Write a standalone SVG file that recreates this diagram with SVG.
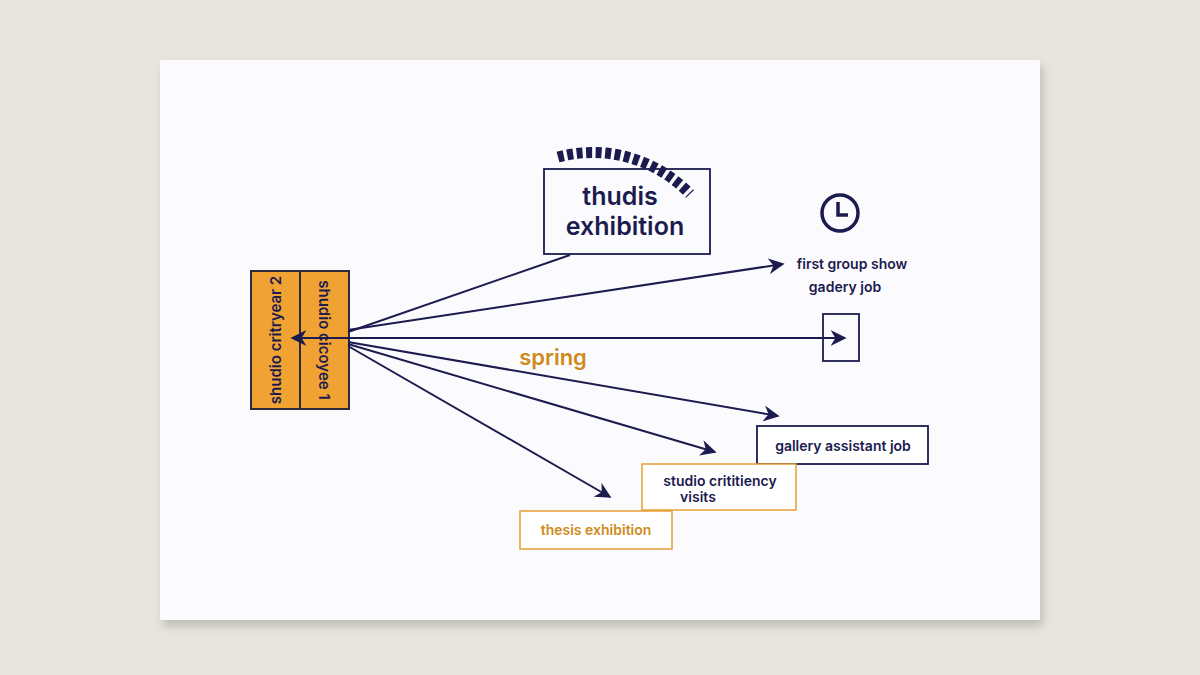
<svg xmlns="http://www.w3.org/2000/svg" width="1200" height="675" viewBox="0 0 1200 675">
<defs>
<marker id="ah" viewBox="0 0 10 10" refX="9" refY="5" markerWidth="16" markerHeight="16" markerUnits="userSpaceOnUse" orient="auto"><path d="M0,0 L10,5 L0,10 L3,5 z" fill="#1b1b4f"/></marker>
<filter id="sh" x="-5%" y="-5%" width="110%" height="115%"><feDropShadow dx="3" dy="6" stdDeviation="5" flood-color="#000" flood-opacity="0.18"/></filter>
<style>
text{font-family:Inter,"Liberation Sans",sans-serif;font-weight:600;fill:#1b1b4f}
.c line{stroke:#1b1b4f;stroke-width:2}
.nb{fill:#fff;stroke:#1b1b4f;stroke-width:1.8}
.nf{fill:none;stroke:#1b1b4f;stroke-width:1.8}
.ob{fill:#fff;stroke:#e4a036;stroke-width:1.5}
.org{fill:#cf8a1c}
</style>
</defs>
<rect width="1200" height="675" fill="#e8e5df"/>
<rect x="160" y="60" width="880" height="560" fill="#fbfbfd" filter="url(#sh)"/>
<g id="year-box">
<rect x="251" y="271" width="49" height="138" fill="#f0a232" stroke="#2a2a3a" stroke-width="2"/>
<rect x="300" y="271" width="49" height="138" fill="#f0a232" stroke="#2a2a3a" stroke-width="2"/>
<text transform="translate(281,340) rotate(-90)" text-anchor="middle" font-size="15">shudio critryear 2</text>
<text transform="translate(319,340) rotate(90)" text-anchor="middle" font-size="15">shudio cicoyee 1</text>
</g>
<g id="thudis">
<rect x="544" y="169" width="166" height="85" class="nf"/>
<path d="M558,157 A135,135 0 0 1 690,194" fill="none" stroke="#1b1b4f" stroke-width="11" stroke-dasharray="6,3.5"/>
<text x="620" y="205" text-anchor="middle" font-size="25">thudis</text>
<text x="625" y="235" text-anchor="middle" font-size="25">exhibition</text>
</g>
<g id="clock">
<circle cx="840" cy="213" r="18" fill="none" stroke="#1b1b4f" stroke-width="3.5"/>
<path d="M838,202 V215 H848" fill="none" stroke="#1b1b4f" stroke-width="3.5"/>
</g>
<g id="first-group">
<text x="852" y="269" text-anchor="middle" font-size="14">first group show</text>
<text x="845" y="292" text-anchor="middle" font-size="14">gadery job</text>
</g>
<g id="small-box"><rect x="823" y="314" width="36" height="47" class="nf"/></g>
<text x="553" y="365" text-anchor="middle" font-size="22" class="org">spring</text>
<g id="gallery"><rect x="757" y="426" width="171" height="38" class="nb"/><text x="843" y="451" text-anchor="middle" font-size="14">gallery assistant job</text></g>
<g id="visits"><rect x="642" y="464" width="154" height="46" class="ob"/><text x="720" y="486" text-anchor="middle" font-size="14">studio crititiency</text><text x="698" y="502" text-anchor="middle" font-size="14">visits</text></g>
<g id="thesis"><rect x="520" y="511" width="152" height="38" class="ob"/><text x="596" y="535" text-anchor="middle" font-size="14" style="fill:#cf8a1c">thesis exhibition</text></g>
<g class="c">
<line x1="348" y1="332" x2="570" y2="255"/>
<line x1="348" y1="330" x2="783" y2="264" marker-end="url(#ah)"/>
<line x1="348" y1="338" x2="845" y2="338" marker-end="url(#ah)"/>
<line x1="348" y1="338" x2="292" y2="338" marker-end="url(#ah)"/>
<line x1="348" y1="342" x2="778" y2="416" marker-end="url(#ah)"/>
<line x1="348" y1="344" x2="715" y2="452" marker-end="url(#ah)"/>
<line x1="348" y1="346" x2="610" y2="497" marker-end="url(#ah)"/>
</g>
</svg>
